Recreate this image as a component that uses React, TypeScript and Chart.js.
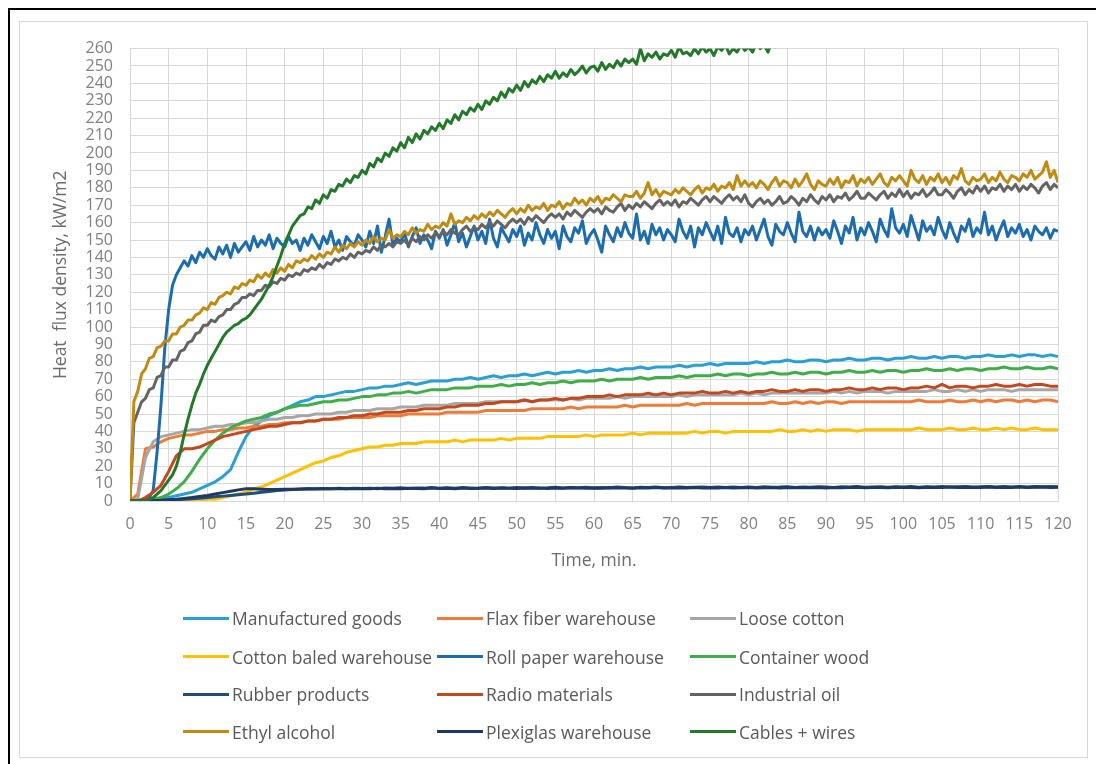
import React, { useEffect, useRef } from "react";
import { Chart, registerables } from "chart.js";

Chart.register(...registerables);

const FONT = "'Open Sans', 'DejaVu Sans', sans-serif";

// Time axis: 0..120 min, tick every 5 min; heat flux axis: 0..260 kW/m2, tick every 10
const X_MIN = 0;
const X_MAX = 120;
const X_STEP = 5;
const Y_MIN = 0;
const Y_MAX = 260;
const Y_STEP = 10;

const X_TITLE = "Time, min.";
const Y_TITLE = "Heat  flux density, kW/m2";

// Sampling interval (min) of the recorded series
const STEP_COARSE = 1;
const STEP_FINE = 0.5;

// ---- recorded heat flux, kW/m2 (1-min samples) ----
const manufacturedGoods = [
  0, 0, 0, 0.5, 1, 2, 3, 4, 5, 7,
  9, 11, 14, 18, 28, 37, 43, 46, 49, 51,
  53, 55, 57, 58, 60, 60, 61, 62, 63, 63,
  64, 65, 65, 66, 66, 67, 68, 67, 68, 69,
  69, 69, 70, 70, 71, 70, 71, 72, 71, 72,
  72, 73, 72, 73, 74, 73, 74, 74, 75, 74,
  75, 75, 76, 75, 76, 76, 77, 76, 77, 77,
  77, 78, 77, 78, 78, 79, 78, 79, 79, 79,
  79, 80, 79, 80, 80, 81, 80, 80, 81, 81,
  80, 81, 81, 82, 81, 81, 82, 82, 81, 82,
  82, 83, 82, 82, 83, 82, 83, 83, 82, 83,
  83, 84, 83, 83, 84, 83, 84, 84, 83, 84,
  83,
];

const flaxFiber = [
  0, 4, 30, 31, 34, 36, 37, 38, 38, 39,
  40, 40, 41, 41, 42, 42, 43, 43, 44, 44,
  45, 45, 45, 46, 46, 47, 47, 47, 48, 48,
  48, 48, 49, 49, 49, 49, 50, 50, 50, 50,
  50, 51, 51, 51, 51, 51, 52, 52, 52, 52,
  52, 52, 53, 53, 53, 53, 53, 54, 53, 54,
  54, 54, 54, 54, 55, 54, 55, 55, 55, 55,
  55, 55, 56, 55, 56, 56, 56, 56, 56, 56,
  56, 56, 56, 57, 56, 56, 57, 56, 57, 56,
  57, 57, 56, 57, 57, 57, 57, 57, 57, 57,
  57, 57, 58, 57, 57, 57, 58, 57, 57, 58,
  57, 58, 57, 58, 58, 57, 58, 57, 58, 58,
  57,
];

const looseCotton = [
  0, 1, 25, 34, 37, 38, 39, 40, 41, 41,
  42, 43, 43, 44, 44, 45, 45, 46, 47, 47,
  48, 48, 49, 49, 50, 50, 50, 51, 51, 52,
  52, 52, 53, 53, 53, 54, 54, 54, 55, 55,
  55, 55, 56, 56, 56, 56, 57, 57, 57, 57,
  57, 58, 57, 58, 58, 58, 58, 59, 58, 59,
  59, 59, 59, 60, 59, 60, 60, 60, 60, 60,
  60, 61, 60, 61, 61, 61, 61, 61, 61, 62,
  61, 62, 61, 62, 62, 62, 62, 62, 62, 62,
  62, 63, 62, 63, 62, 63, 63, 63, 62, 63,
  63, 63, 63, 63, 64, 63, 63, 64, 63, 64,
  63, 64, 64, 64, 63, 64, 64, 64, 64, 64,
  64,
];

const cottonBaled = [
  0, 0, 0, 0, 0, 0, 0, 0, 0, 0,
  1, 1, 2, 3, 4, 5, 7, 8, 10, 12,
  14, 16, 18, 20, 22, 23, 25, 26, 28, 29,
  30, 31, 31, 32, 32, 33, 33, 33, 34, 34,
  34, 34, 35, 34, 35, 35, 35, 35, 36, 35,
  36, 36, 36, 36, 37, 37, 37, 37, 37, 38,
  37, 38, 38, 38, 38, 39, 38, 39, 39, 39,
  39, 39, 39, 40, 39, 40, 40, 39, 40, 40,
  40, 40, 40, 40, 41, 40, 40, 41, 40, 41,
  40, 41, 41, 41, 40, 41, 41, 41, 41, 41,
  41, 41, 42, 41, 41, 41, 42, 41, 41, 42,
  41, 41, 42, 41, 42, 41, 41, 42, 41, 41,
  41,
];

const containerWood = [
  0, 0, 0, 1, 2, 4, 7, 11, 17, 24,
  30, 35, 39, 42, 44, 46, 47, 48, 50, 51,
  53, 54, 55, 55, 56, 57, 57, 58, 58, 59,
  60, 60, 61, 61, 62, 62, 63, 62, 63, 64,
  64, 64, 65, 65, 65, 66, 66, 66, 67, 66,
  67, 67, 68, 67, 68, 68, 69, 68, 69, 69,
  69, 70, 69, 70, 70, 70, 71, 70, 71, 71,
  71, 72, 71, 72, 72, 72, 73, 72, 73, 73,
  72, 73, 73, 74, 73, 73, 74, 73, 74, 74,
  73, 74, 74, 75, 74, 74, 75, 74, 75, 75,
  74, 75, 75, 76, 75, 75, 76, 75, 76, 76,
  75, 76, 76, 77, 76, 76, 77, 76, 76, 77,
  76,
];

const rubberProducts = [
  0, 0, 0, 0, 0, 0.5, 0.8, 1, 1.3, 1.6,
  2, 2.4, 2.8, 3.2, 3.6, 4, 4.5, 5, 5.5, 6,
  6.3, 6.6, 6.8, 7, 7, 7.2, 7, 7.3, 7.1, 7.4,
  7.2, 7.4, 7.1, 7.5, 7.3, 7.6, 7.2, 7.5, 7.4, 7.7,
  7.3, 7.6, 7.4, 7.7, 7.5, 7.3, 7.8, 7.5, 7.6, 7.4,
  7.7, 7.5, 7.8, 7.4, 7.6, 7.9, 7.5, 7.7, 7.6, 7.9,
  7.5, 7.8, 7.6, 8, 7.7, 7.5, 7.9, 7.7, 8, 7.6,
  7.8, 8, 7.7, 7.9, 8.1, 7.7, 8, 7.8, 8.1, 7.8,
  8, 7.8, 8.2, 7.9, 8, 8.2, 7.8, 8.1, 7.9, 8.2,
  8, 7.8, 8.2, 8, 8.3, 7.9, 8.1, 8.2, 7.9, 8.2,
  8, 8.3, 7.9, 8.2, 8.1, 8.3, 8, 8.2, 8.4, 8,
  8.2, 8.3, 8, 8.3, 8.1, 8.4, 8.1, 8.3, 8.2, 8.4,
  8.2,
];

const radioMaterials = [
  0, 0, 2, 5, 9, 17, 26, 30, 30, 31,
  33, 35, 37, 38, 39, 40, 41, 42, 43, 43,
  44, 45, 45, 46, 46, 47, 47, 48, 48, 49,
  49, 50, 50, 51, 51, 51, 52, 52, 53, 53,
  53, 54, 54, 55, 55, 55, 56, 56, 57, 57,
  57, 58, 57, 58, 58, 59, 58, 59, 59, 60,
  60, 60, 61, 60, 61, 61, 61, 62, 61, 62,
  61, 62, 62, 62, 63, 62, 62, 63, 62, 63,
  62, 63, 63, 64, 63, 63, 64, 63, 64, 64,
  63, 64, 64, 65, 64, 64, 65, 64, 65, 65,
  64, 65, 65, 66, 65, 67, 65, 66, 66, 65,
  66, 66, 67, 66, 66, 67, 66, 67, 67, 66,
  66,
];

const plexiglas = [
  0, 0, 0, 0.2, 0.4, 0.7, 1, 1.5, 2, 2.6,
  3.2, 4, 4.8, 5.6, 6.4, 7, 7, 6.8, 6.6, 6.6,
  6.7, 6.8, 6.9, 7, 6.9, 7.1, 7, 7.2, 7, 7.1,
  7.2, 7, 7.3, 7.1, 7.2, 7, 7.3, 7.2, 7.1, 7.4,
  7.2, 7.3, 7.1, 7.4, 7.2, 7.3, 7.5, 7.2, 7.4, 7.3,
  7.2, 7.5, 7.3, 7.4, 7.2, 7.5, 7.3, 7.6, 7.4, 7.3,
  7.5, 7.3, 7.6, 7.4, 7.5, 7.3, 7.6, 7.4, 7.7, 7.5,
  7.4, 7.6, 7.5, 7.7, 7.4, 7.6, 7.5, 7.7, 7.5, 7.6,
  7.7, 7.5, 7.6, 7.8, 7.5, 7.7, 7.6, 7.8, 7.6, 7.7,
  7.5, 7.8, 7.6, 7.7, 7.9, 7.6, 7.8, 7.7, 7.6, 7.9,
  7.7, 7.8, 7.6, 7.9, 7.7, 7.8, 8, 7.7, 7.9, 7.8,
  7.7, 8, 7.8, 7.9, 7.7, 8, 7.8, 7.9, 8, 7.8,
  7.9,
];

// ---- recorded heat flux, kW/m2 (0.5-min samples) ----
const rollPaper = [
  0, 0, 0, 0, 1, 2, 6, 28, 55, 88,
  110, 124, 130, 134, 138, 135, 141, 137, 143, 140,
  145, 141, 139, 146, 142, 147, 140, 148, 143, 146,
  149, 144, 152, 146, 150, 147, 153, 145, 151, 148,
  146, 152, 148, 150, 144, 151, 147, 153, 149, 145,
  152, 148, 155, 146, 150, 144, 152, 149, 147, 153,
  150, 146, 155, 148, 158, 143, 152, 162, 147, 151,
  149, 154, 146, 152, 157, 148, 153, 150, 145, 155,
  151, 156, 147, 153, 160, 149, 154, 146, 152, 158,
  150, 155, 148, 162, 151, 146, 157, 153, 149, 156,
  152, 158, 147, 154, 150, 160, 153, 148, 156, 151,
  155, 145, 158, 152, 149, 157, 154, 161, 148, 153,
  156, 150, 143, 158, 153, 149, 157, 152, 160, 154,
  151, 165, 150, 155, 148, 159, 153, 157, 150, 156,
  153, 149, 162, 155, 151, 158, 146, 157, 153, 160,
  155, 150, 158, 148, 163, 154, 152, 157, 149, 156,
  153, 158, 150, 156, 162, 152, 147, 159, 155, 153,
  160, 154, 149, 166, 155, 152, 158, 150, 157, 153,
  156, 151, 161, 155, 148, 158, 154, 163, 150, 157,
  153, 160, 155, 149, 162, 156, 152, 168, 157, 154,
  159, 152, 164, 157, 150, 161, 155, 158, 153, 163,
  156, 151, 160, 154, 149, 158, 155, 162, 152, 157,
  154, 166, 153, 158, 150, 156, 161, 152, 157, 154,
  159, 152, 156, 150, 158, 155, 153, 157, 151, 156, 155,
];

const industrialOil = [
  0, 45, 51, 57, 59, 64, 65, 71, 72, 77,
  77, 81, 81, 86, 87, 91, 92, 96, 97, 101,
  101, 104, 103, 106, 107, 110, 110, 113, 114, 117,
  117, 119, 118, 121, 121, 124, 123, 126, 125, 128,
  127, 130, 129, 131, 130, 133, 132, 134, 133, 136,
  134, 137, 136, 139, 138, 140, 139, 142, 140, 143,
  142, 144, 143, 146, 144, 147, 146, 148, 146, 149,
  148, 150, 147, 151, 149, 152, 150, 153, 151, 154,
  152, 155, 153, 156, 154, 153, 156, 158, 155, 157,
  156, 159, 157, 160, 158, 161, 159, 157, 160, 162,
  160, 162, 159, 163, 161, 164, 162, 160, 163, 165,
  163, 165, 162, 166, 164, 167, 165, 163, 166, 168,
  166, 168, 165, 169, 167, 166, 169, 171, 167, 170,
  168, 171, 169, 172, 170, 168, 171, 173, 170, 172,
  170, 173, 169, 172, 171, 174, 172, 170, 173, 175,
  172, 175, 173, 171, 174, 176, 173, 175, 172, 176,
  171, 169, 172, 174, 171, 173, 170, 172, 175, 171,
  172, 175, 173, 170, 174, 172, 176, 173, 171, 175,
  173, 176, 172, 175, 174, 177, 173, 175, 178, 174,
  174, 177, 175, 173, 176, 178, 174, 177, 175, 179,
  175, 178, 174, 177, 176, 179, 175, 177, 180, 176,
  176, 179, 177, 174, 178, 180, 176, 179, 177, 181,
  178, 181, 177, 180, 179, 182, 178, 181, 179, 182,
  178, 181, 179, 182, 180, 177, 181, 183, 179, 182, 180,
];

const ethylAlcohol = [
  0, 57, 63, 73, 76, 82, 83, 88, 89, 92,
  92, 96, 96, 100, 101, 104, 104, 107, 108, 111,
  110, 114, 113, 117, 118, 120, 119, 123, 122, 125,
  124, 127, 126, 130, 128, 131, 129, 133, 131, 134,
  132, 136, 134, 138, 137, 139, 138, 141, 139, 142,
  140, 143, 142, 146, 143, 147, 145, 148, 146, 149,
  147, 150, 148, 152, 149, 151, 150, 156, 151, 153,
  152, 155, 153, 157, 154, 156, 155, 159, 156, 158,
  157, 160, 158, 165, 159, 161, 160, 163, 161, 164,
  162, 165, 163, 166, 164, 167, 165, 163, 166, 168,
  165, 168, 166, 170, 167, 169, 168, 171, 167, 170,
  169, 172, 168, 171, 170, 174, 171, 173, 170, 174,
  172, 175, 171, 174, 173, 176, 174, 172, 176, 175,
  175, 178, 174, 177, 183, 176, 179, 175, 178, 177,
  176, 179, 177, 180, 178, 176, 179, 181, 177, 180,
  179, 182, 178, 181, 180, 183, 179, 187, 181, 184,
  181, 183, 180, 184, 182, 179, 183, 186, 181, 184,
  183, 180, 185, 181, 184, 188, 182, 179, 184, 182,
  181, 185, 182, 186, 180, 184, 183, 187, 181, 185,
  183, 186, 182, 185, 188, 183, 181, 186, 184, 187,
  184, 181, 190, 185, 183, 187, 182, 186, 184, 188,
  183, 186, 182, 187, 185, 191, 184, 182, 186, 184,
  185, 188, 183, 186, 184, 189, 185, 183, 187, 186,
  184, 188, 186, 190, 185, 187, 189, 195, 186, 190, 183,
];

const cablesWires = [
  0, 0, 0, 0, 0, 1, 2, 4, 6, 9,
  12, 15, 20, 28, 38, 47, 55, 62, 67, 73,
  78, 82, 86, 90, 94, 97, 99, 101, 102, 104,
  105, 107, 110, 113, 116, 120, 124, 129, 135, 141,
  148, 153, 158, 161, 164, 165, 169, 168, 173, 171,
  176, 174, 179, 178, 182, 181, 185, 183, 187, 186,
  190, 188, 194, 192, 197, 195, 200, 198, 203, 201,
  206, 203, 209, 206, 211, 208, 213, 211, 215, 213,
  217, 214, 219, 217, 222, 219, 224, 222, 226, 224,
  228, 225, 230, 228, 232, 230, 235, 232, 237, 235,
  239, 236, 241, 238, 242, 240, 244, 241, 245, 243,
  247, 243, 246, 244, 248, 245, 247, 250, 246, 249,
  250, 247, 252, 248, 251, 249, 253, 250, 254, 252,
  254, 251, 260, 253, 257, 255, 258, 254, 257, 256,
  259, 255, 261, 257, 258, 256, 260, 257, 261, 258,
  260, 256, 261, 259, 262, 257, 260, 258, 262, 259,
  261, 258, 263, 260, 262, 258, 264, 261, 263, 262,
  265, 262, 266, 263, 265, 264, 267, 263, 266, 265,
  267, 264, 268, 266, 267, 265, 269, 266, 268, 267,
  269, 266, 270, 267, 269, 268, 270, 267, 271, 269,
  270, 268, 271, 269, 272, 269, 271, 270, 272, 270,
  272, 270, 273, 271, 272, 270, 274, 271, 273, 272,
  273, 271, 274, 272, 273, 272, 275, 272, 274, 273,
  274, 272, 275, 273, 274, 273, 276, 273, 275, 274, 275,
];

// ---- series, in legend order ----
const SERIES_NAMES = [
  "Manufactured goods",
  "Flax fiber warehouse",
  "Loose cotton",
  "Cotton baled warehouse",
  "Roll paper warehouse",
  "Container wood",
  "Rubber products",
  "Radio materials",
  "Industrial oil",
  "Ethyl alcohol",
  "Plexiglas warehouse",
  "Cables + wires",
];

const SERIES_VALUES = [
  manufacturedGoods,
  flaxFiber,
  looseCotton,
  cottonBaled,
  rollPaper,
  containerWood,
  rubberProducts,
  radioMaterials,
  industrialOil,
  ethylAlcohol,
  plexiglas,
  cablesWires,
];

const SERIES_STEPS = [
  STEP_COARSE,
  STEP_COARSE,
  STEP_COARSE,
  STEP_COARSE,
  STEP_FINE,
  STEP_COARSE,
  STEP_COARSE,
  STEP_COARSE,
  STEP_FINE,
  STEP_FINE,
  STEP_COARSE,
  STEP_FINE,
];

const SERIES_COLORS = [
  "#2A9FD6",
  "#EE7C38",
  "#A6A6A6",
  "#FFC000",
  "#1C6DB0",
  "#3FAE49",
  "#1F4E79",
  "#C3481E",
  "#646464",
  "#C08B10",
  "#1F3864",
  "#23782A",
];

const toPoints = (values: number[], step: number) =>
  values.map((y, i) => ({ x: i * step, y }));

// Layout of the figure (pixels relative to the inner frame)
const CANVAS_W = 1067;
const CANVAS_H = 735;
const LEGEND_ROWS_Y = [596, 634.5, 672, 709.5];
const LEGEND_COLS_X = [163, 417, 670];
const LEGEND_SWATCH_W = 46;

export default function App() {
  const canvasRef = useRef<HTMLCanvasElement | null>(null);

  useEffect(() => {
    document.documentElement.style.overflow = "hidden";
    const canvas = canvasRef.current;
    if (!canvas) return;

    const datasets = SERIES_NAMES.map((name, i) => ({
      label: name,
      data: toPoints(SERIES_VALUES[i], SERIES_STEPS[i]),
      borderColor: SERIES_COLORS[i],
      backgroundColor: SERIES_COLORS[i],
      borderWidth: 3,
      pointRadius: 0,
      pointHoverRadius: 0,
      fill: false,
      tension: 0,
      borderJoinStyle: "round" as const,
      order: SERIES_NAMES.length - 1 - i,
    }));

    const chart = new Chart(canvas, {
      type: "line",
      data: { datasets },
      options: {
        animation: false,
        responsive: false,
        maintainAspectRatio: false,
        devicePixelRatio: 1,
        layout: { padding: { top: 25, right: 29, bottom: 0, left: 0 } },
        plugins: {
          legend: { display: false },
          tooltip: { enabled: false },
        },
        scales: {
          x: {
            type: "linear",
            min: X_MIN,
            max: X_MAX,
            afterFit: (scale: any) => {
              scale.height = 256;
            },
            ticks: {
              stepSize: X_STEP,
              autoSkip: false,
              maxRotation: 0,
              padding: 14,
              color: "#808080",
              font: { family: FONT, size: 16 },
            },
            grid: { color: "#d9d9d9", lineWidth: 1, drawTicks: false },
            border: { display: true, color: "#d9d9d9" },
            title: {
              display: true,
              text: X_TITLE,
              color: "#6b6b6b",
              font: { family: FONT, size: 17.5 },
              padding: { top: 0, bottom: 185 },
            },
          },
          y: {
            type: "linear",
            min: Y_MIN,
            max: Y_MAX,
            afterFit: (scale: any) => {
              scale.width = 110;
            },
            ticks: {
              stepSize: Y_STEP,
              autoSkip: false,
              padding: 17,
              color: "#808080",
              font: { family: FONT, size: 16 },
            },
            grid: { color: "#d9d9d9", lineWidth: 1, drawTicks: false },
            border: { display: true, color: "#d9d9d9" },
            title: {
              display: true,
              text: Y_TITLE,
              color: "#6b6b6b",
              font: { family: FONT, size: 17.5 },
              padding: { top: 31, bottom: 0 },
            },
          },
        },
      },
    });

    return () => {
      chart.destroy();
    };
  }, []);

  return (
    <div
      style={{
        position: "relative",
        width: 1090,
        height: 756,
        boxSizing: "border-box",
        borderLeft: "2px solid #000",
        borderTop: "2px solid #000",
        borderRight: "2px solid #000",
        background: "#fff",
      }}
    >
      <div
        style={{
          position: "absolute",
          left: 9,
          top: 11,
          width: 1069,
          height: 737,
          boxSizing: "border-box",
          border: "1px solid #d9d9d9",
          background: "#fff",
        }}
      >
        <canvas
          ref={canvasRef}
          width={CANVAS_W}
          height={CANVAS_H}
          style={{ position: "absolute", left: 0, top: 0, width: CANVAS_W, height: CANVAS_H }}
        />
        {SERIES_NAMES.map((name, i) => {
          const row = Math.floor(i / 3);
          const col = i % 3;
          const y = LEGEND_ROWS_Y[row];
          const x = LEGEND_COLS_X[col];
          return (
            <div key={name}>
              <div
                style={{
                  position: "absolute",
                  left: x,
                  top: y - 1.5,
                  width: LEGEND_SWATCH_W,
                  height: 3,
                  background: SERIES_COLORS[i],
                }}
              />
              <div
                style={{
                  position: "absolute",
                  left: x + LEGEND_SWATCH_W + 3,
                  top: y - 13,
                  height: 26,
                  lineHeight: "26px",
                  fontFamily: FONT,
                  fontSize: 17.5,
                  color: "#595959",
                  whiteSpace: "nowrap",
                }}
              >
                {name}
              </div>
            </div>
          );
        })}
      </div>
    </div>
  );
}
